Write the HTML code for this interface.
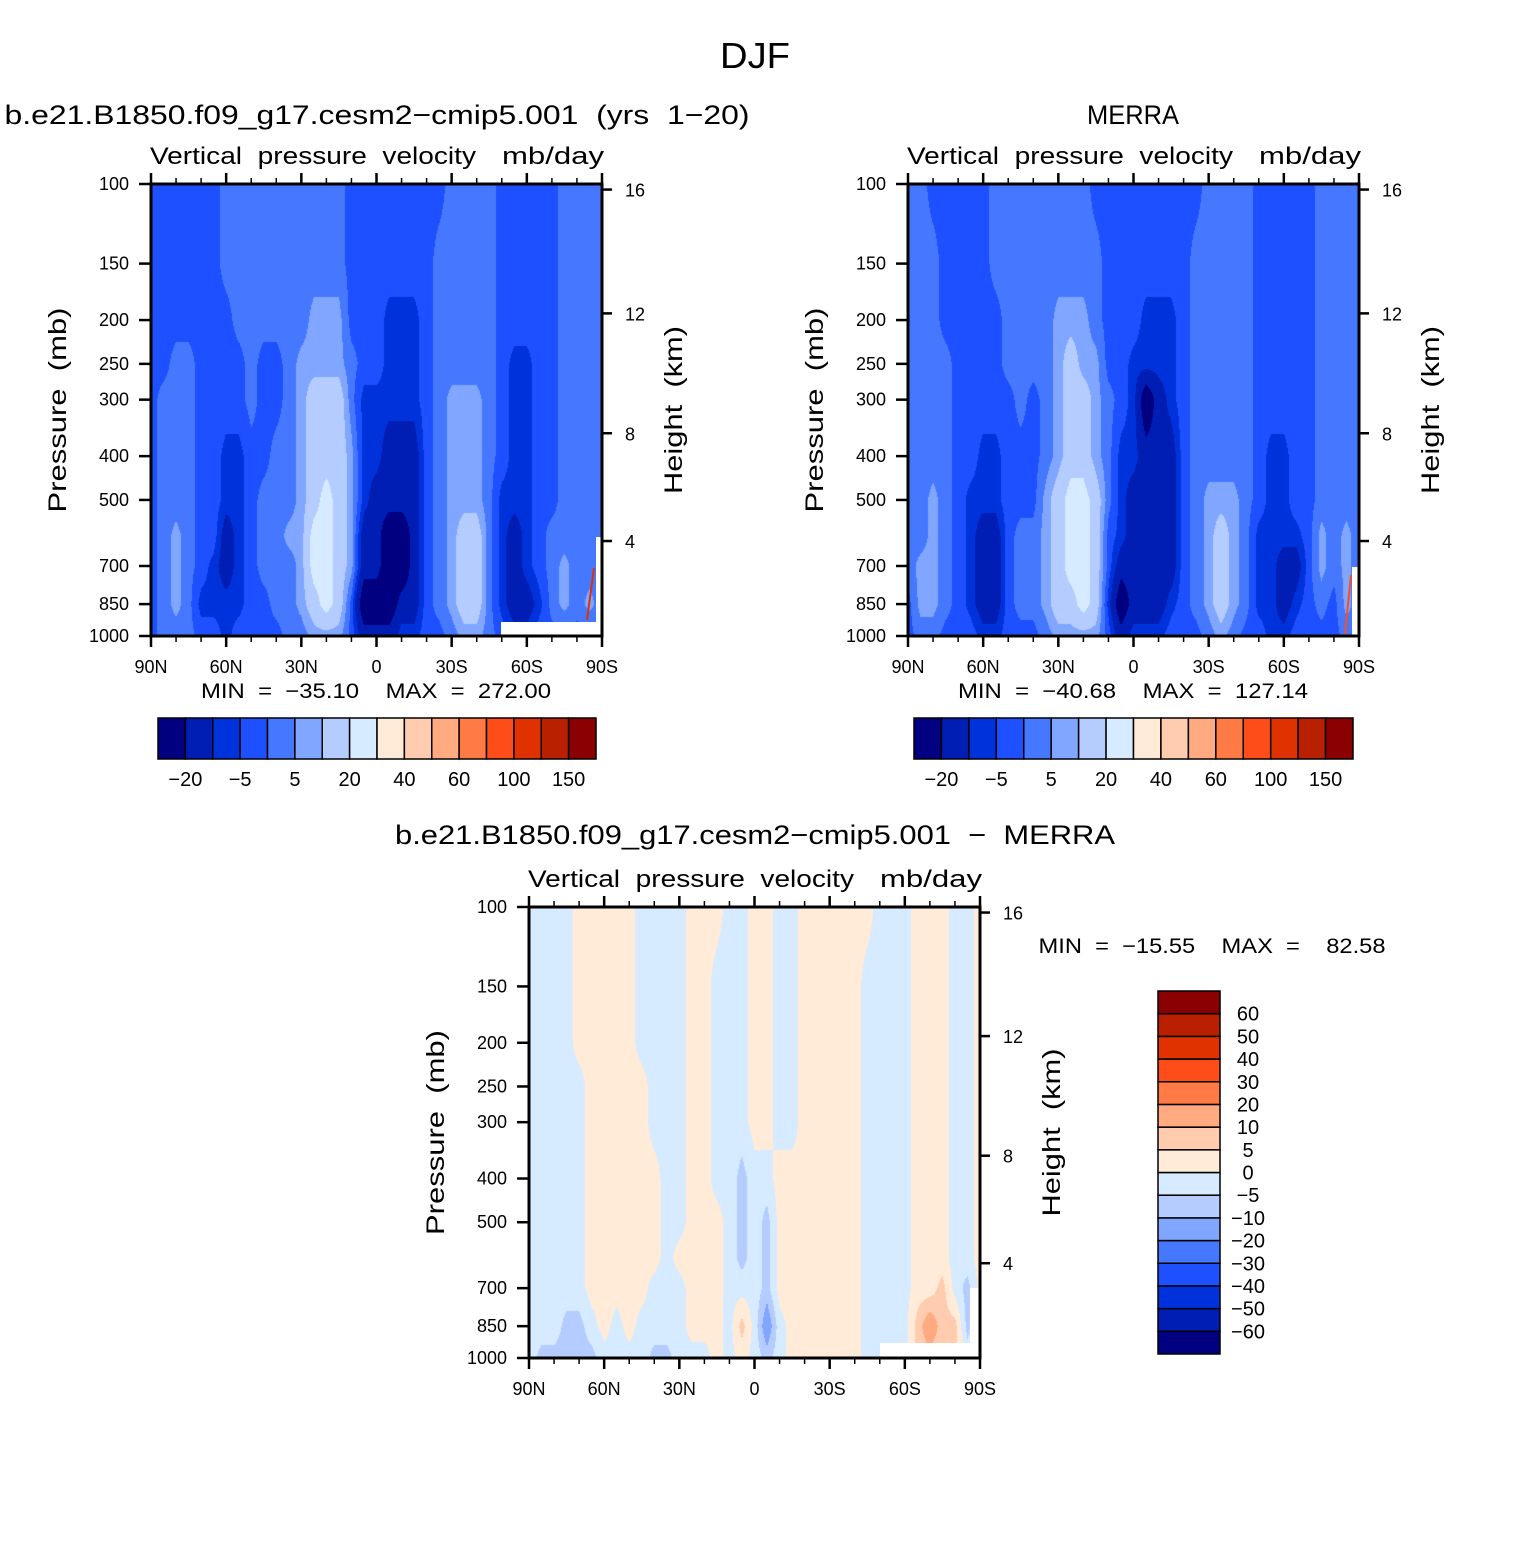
<!DOCTYPE html>
<html><head><meta charset="utf-8"><style>
html,body{margin:0;padding:0;background:#fff;}
#wrap{position:relative;width:1525px;height:1543px;overflow:hidden;background:#fff;}
canvas{position:absolute;}
svg{position:absolute;left:0;top:0;}
text{font-family:"Liberation Sans",sans-serif;fill:#000;white-space:pre;}
</style></head><body>
<div id="wrap">
<canvas id="cA" width="451" height="452" style="left:151px;top:184px"></canvas>
<canvas id="cB" width="451" height="452" style="left:908px;top:184px"></canvas>
<canvas id="cC" width="451" height="451" style="left:529px;top:907px"></canvas>
<svg id="svg" width="1525" height="1543" xmlns="http://www.w3.org/2000/svg"></svg>
</div>
<script>
// ---- data ----
const latitudes = [90,85,80,75,70,65,60,55,50,45,40,35,30,25,20,15,10,5,0,-5,-10,-15,-20,-25,-30,-35,-40,-45,-50,-55,-60,-65,-70,-75,-80,-85,-90];
const pressureLevels = [100,150,200,250,300,400,500,600,700,850,1000];
const pressureTicks = [100,150,200,250,300,400,500,700,850,1000];
const heightTicks = [4,8,12,16];
const latTickLabels = ["90N","60N","30N","0","30S","60S","90S"];
const topLevels = [-20,-10,-5,0,5,10,20,30,40,50,60,80,100,125,150];
const topLevelLabels = ["−20","−5","5","20","40","60","100","150"];
const diffLevels = [-60,-50,-40,-30,-20,-10,-5,0,5,10,20,30,40,50,60];
const diffLevelLabels = ["−60","−50","−40","−30","−20","−10","−5","0","5","10","20","30","40","50","60"];
const palette = ["#000080","#001eb4","#0032dc","#1e50ff","#4678ff","#80a6ff","#b4ccff","#d6ebff","#ffebd7","#ffccb0","#ffaa80","#ff7a45","#ff4d1a","#e03200","#b82000","#8b0000"];
// profiles per latitude (100..1000 mb), mb/day
const modelOmega = [
[-2,-2,-2,-2,-2,-2,-2,-2,-2,-2,-2],
[-2,-2,-2,-2,2,2,2,2,2,2,2],
[-2,-2,-2,2,2,2,2,7,7,7,2],
[-2,-2,-2,2,2,2,2,2,2,2,2],
[-2,-2,-2,-2,-2,-2,-2,-2,-2,-7,-2],
[-2,-2,-2,-2,-2,-2,-2,-2,-7,-7,-2],
[2,2,-2,-2,-2,-7,-7,-15,-15,-7,-7],
[2,2,2,-2,-2,-7,-7,-7,-7,-7,-2],
[2,2,2,2,2,-2,-2,-2,-2,-2,-2],
[2,2,2,-2,-2,-2,2,2,2,-2,-2],
[2,2,2,-2,-2,2,2,2,2,2,-2],
[2,2,2,2,2,2,2,7,2,2,2],
[2,2,2,7,7,7,7,7,7,7,2],
[2,2,7,7,15,15,15,25,25,15,7],
[2,2,7,7,15,15,25,25,25,25,7],
[2,2,7,7,15,15,15,15,15,15,7],
[-2,-2,-2,2,2,7,7,7,7,-2,-2],
[-2,-2,-2,-2,-7,-7,-7,-15,-15,-30,-15],
[-2,-2,-2,-2,-7,-7,-15,-15,-15,-30,-15],
[-2,-2,-7,-7,-7,-15,-15,-30,-30,-30,-15],
[-2,-2,-7,-7,-7,-15,-15,-30,-30,-15,-7],
[-2,-2,-7,-7,-7,-15,-15,-15,-15,-15,-7],
[-2,-2,-2,-2,-2,-2,-2,-2,-2,-2,-2],
[-2,2,2,2,2,2,2,2,2,2,-2],
[2,2,2,2,7,7,7,7,7,7,2],
[2,2,2,2,7,7,7,15,15,15,7],
[2,2,2,2,7,7,7,15,15,15,7],
[2,2,2,2,2,2,2,2,2,2,2],
[-2,-2,-2,-2,-2,-2,-7,-7,-7,-7,-2],
[-2,-2,-2,-7,-7,-7,-7,-15,-15,-15,-7],
[-2,-2,-2,-7,-7,-7,-7,-7,-7,-15,-7],
[-2,-2,-2,-2,-2,-2,-2,-2,-2,-7,-2],
[-2,-2,-2,-2,-2,-2,-2,2,2,2,-2],
[2,2,2,2,2,2,2,2,7,7,-2],
[2,2,2,2,2,2,2,2,2,2,-2],
[2,2,2,2,2,2,2,2,2,7,-2],
[2,2,2,2,2,2,2,2,2,2,2]];
const merraOmega = [
[2,2,2,2,2,2,2,2,2,-2,-2],
[2,2,2,2,2,2,2,2,7,7,2],
[-2,2,2,2,2,2,7,7,7,7,2],
[-2,-2,-2,2,2,2,2,2,2,2,-2],
[-2,-2,-2,-2,-2,-2,-2,-2,-2,-2,-2],
[-2,-2,-2,-2,-2,-2,-7,-7,-7,-7,-2],
[-2,-2,-2,-2,-2,-7,-7,-15,-15,-15,-7],
[2,2,-2,-2,-2,-7,-7,-15,-15,-15,-7],
[2,2,2,2,-2,-2,-2,-2,-2,-2,-2],
[2,2,2,2,2,-2,-2,2,2,2,-2],
[2,2,2,2,-2,-2,-2,2,2,2,-2],
[2,2,2,2,2,2,7,7,7,7,2],
[2,2,7,7,7,7,15,15,15,15,7],
[2,2,7,15,15,15,25,25,25,15,7],
[2,2,7,7,15,15,25,25,25,25,7],
[-2,2,2,7,7,7,15,15,15,15,7],
[-2,-2,-2,-2,2,2,2,-2,-2,-7,-2],
[-2,-2,-2,-2,-2,-7,-7,-7,-15,-30,-15],
[-2,-2,-2,-7,-7,-7,-15,-15,-15,-15,-7],
[-2,-2,-7,-7,-30,-15,-15,-15,-15,-15,-7],
[-2,-2,-7,-7,-15,-15,-15,-15,-15,-15,-7],
[-2,-2,-7,-7,-7,-15,-15,-15,-15,-7,-2],
[-2,-2,-2,-2,-2,-2,-2,-2,-2,-2,-2],
[-2,2,2,2,2,2,2,2,2,2,-2],
[2,2,2,2,2,2,7,7,7,7,2],
[2,2,2,2,2,2,7,15,15,15,7],
[2,2,2,2,2,2,7,7,7,7,2],
[2,2,2,2,2,2,2,2,2,2,-2],
[-2,-2,-2,-2,-2,-2,-2,-7,-7,-7,-2],
[-2,-2,-2,-2,-2,-7,-7,-7,-7,-7,-7],
[-2,-2,-2,-2,-2,-7,-7,-7,-15,-15,-7],
[-2,-2,-2,-2,-2,-2,-2,-7,-15,-7,-2],
[-2,-2,-2,-2,-2,-2,-2,-2,-2,-2,-2],
[2,2,2,2,2,2,2,7,7,2,-2],
[2,2,2,2,2,2,2,2,2,-2,-2],
[2,2,2,2,2,2,2,7,7,7,2],
[2,2,2,2,2,2,2,2,2,2,2]];
const diffOmega = [
[-2,-2,-2,-2,-2,-2,-2,-2,-2,-2,-2],
[-2,-2,-2,-2,-2,-2,-2,-2,-2,-2,-7],
[-2,-2,-2,-2,-2,-2,-2,-2,-2,-2,-7],
[-2,-2,-2,-2,-2,-2,-2,-2,-2,-7,-7],
[2,2,2,-2,-2,-2,-2,-2,-2,-7,-7],
[2,2,2,2,2,2,2,2,2,-2,-7],
[2,2,2,2,2,2,2,2,2,2,-2],
[2,2,2,2,2,2,2,2,2,-2,-2],
[2,2,2,2,2,2,2,2,2,2,-2],
[-2,-2,-2,2,2,2,2,2,2,-2,-2],
[-2,-2,-2,-2,-2,2,2,2,-2,-2,-7],
[-2,-2,-2,-2,-2,-2,-2,-2,-2,-2,-7],
[-2,-2,-2,-2,-2,-2,-2,2,-2,-2,-2],
[2,2,2,2,2,2,2,2,2,2,-2],
[2,2,2,2,2,2,2,2,2,2,-2],
[2,-2,-2,-2,-2,-2,2,2,2,2,2],
[-2,-2,-2,-2,-2,-2,-2,-2,-2,-2,-2],
[-2,-2,-2,-2,-2,-7,-7,-7,-2,7,2],
[2,2,2,2,2,-2,-2,-2,-2,-2,-2],
[2,2,2,2,2,-2,-7,-7,-7,-15,-7],
[-2,-2,-2,-2,-2,2,2,2,2,-2,-2],
[-2,-2,-2,-2,-2,2,2,2,2,2,2],
[2,2,2,2,2,2,2,2,2,2,2],
[2,2,2,2,2,2,2,2,2,2,2],
[2,2,2,2,2,2,2,2,2,2,2],
[2,2,2,2,2,2,2,2,2,2,2],
[2,2,2,2,2,2,2,2,2,2,2],
[2,-2,-2,-2,-2,-2,-2,-2,-2,-2,-2],
[-2,-2,-2,-2,-2,-2,-2,-2,-2,-2,-2],
[-2,-2,-2,-2,-2,-2,-2,-2,-2,-2,-2],
[-2,-2,-2,-2,-2,-2,-2,-2,-2,-2,-2],
[2,2,2,2,2,2,2,2,2,7,7],
[2,2,2,2,2,2,2,2,2,15,7],
[2,2,2,2,2,2,2,2,7,7,7],
[-2,-2,-2,-2,-2,-2,-2,-2,-2,7,7],
[-2,-2,-2,-2,-2,-2,-2,-2,-7,-7,-2],
[2,2,2,2,2,2,2,2,2,2,2]];

// ---- axis functions ----
function makeAxes(x0,y0,W,H){
  return {
    x: lat => x0 + (90-lat)/180*W,
    y: p => y0 + Math.log10(p/100)*H,
    x0,y0,W,H
  };
}
function heightToP(z){
  if(z<=11) return 1013.25*Math.pow(1-z/44.3308,5.2559);
  return 226.32*Math.exp(-(z-11)/6.3416);
}
function classify(v,levels){let k=0;while(k<levels.length&&v>=levels[k])k++;return k;}
function hex(c){return [parseInt(c.substr(1,2),16),parseInt(c.substr(3,2),16),parseInt(c.substr(5,2),16)];}
const palRGB = palette.map(hex);

function drawField(canvasId, grid, levels, ax){
  const cv=document.getElementById(canvasId), ctx=cv.getContext('2d');
  const W=cv.width,H=cv.height, img=ctx.createImageData(W,H);
  const logs=pressureLevels.map(p=>Math.log10(p));
  const nLat=latitudes.length;
  for(let py=0;py<H;py++){
    const lp=2+(py+0.5)/ax.H;
    let k=0; while(k<logs.length-2 && lp>logs[k+1]) k++;
    let fy=(lp-logs[k])/(logs[k+1]-logs[k]); fy=Math.max(0,Math.min(1,fy));
    for(let px=0;px<W;px++){
      const lat=90-(px+0.5)/ax.W*180;
      let u=(latitudes[0]-lat)/(latitudes[0]-latitudes[nLat-1])*(nLat-1);
      let i=Math.min(nLat-2,Math.max(0,Math.floor(u))); let fx=Math.max(0,Math.min(1,u-i));
      const v=(grid[i][k]*(1-fx)+grid[i+1][k]*fx)*(1-fy)+(grid[i][k+1]*(1-fx)+grid[i+1][k+1]*fx)*fy;
      const c=palRGB[classify(v,levels)], o=(py*W+px)*4;
      img.data[o]=c[0];img.data[o+1]=c[1];img.data[o+2]=c[2];img.data[o+3]=255;
    }
  }
  ctx.putImageData(img,0,0);
}

const NS="http://www.w3.org/2000/svg", svg=document.getElementById('svg');
function el(tag,attrs,parent){const e=document.createElementNS(NS,tag);for(const k in attrs)e.setAttribute(k,attrs[k]);(parent||svg).appendChild(e);return e;}
function txt(s,x,y,size,anchor,extra,parent){
  const a=Object.assign({x:x,y:y,'font-size':size,'text-anchor':anchor||'middle'},extra||{});
  if(a.textLength) a.lengthAdjust='spacingAndGlyphs';
  const t=el('text',a,parent);t.textContent=s;return t;}

function drawAxes(ax,name){
  const g=el('g',{});
  
  
  const L=ax.x0,R=ax.x0+ax.W,T=ax.y0,B=ax.y0+ax.H;
  for(let lat=90;lat>=-90;lat-=10){
    const x=ax.x(lat), major=(lat%30===0), len=major?11:6;
    el('line',{x1:x,y1:T,x2:x,y2:T-len,stroke:'#000','stroke-width':major?2.5:1.5},g);
    el('line',{x1:x,y1:B,x2:x,y2:B+len,stroke:'#000','stroke-width':major?2.5:1.5},g);
  }
  latTickLabels.forEach((s,i)=>{
    const t=txt(s,ax.x(90-30*i),B+37,18,'middle',{},g);
    
    
  });
  pressureTicks.forEach(p=>{
    const y=ax.y(p);
    el('line',{x1:L,y1:y,x2:L-12,y2:y,stroke:'#000','stroke-width':2.5},g);
    const t=txt(String(p),L-22,y+6,18,'end',{},g);
    
    
  });
  heightTicks.forEach(z=>{
    const y=ax.y(heightToP(z));
    el('line',{x1:R,y1:y,x2:R+10,y2:y,stroke:'#000','stroke-width':2.5},g);
    const t=txt(String(z),R+23,y+7,18,'start',{},g);
    
    
  });
  el('rect',{x:L,y:T,width:ax.W,height:ax.H,fill:'none',stroke:'#000','stroke-width':3},g);
  const py=txt('Pressure  (mb)',0,0,25,'middle',{transform:`translate(${L-85},${(T+B)/2}) rotate(-90)`,textLength:205},g);
  
  
  const hy=txt('Height  (km)',0,0,25,'middle',{transform:`translate(${R+80},${(T+B)/2}) rotate(-90)`,textLength:168},g);
  
  
  const s1=txt('Vertical  pressure  velocity',L-1,T-20,24,'start',{textLength:326},g);
  
  
  const s2=txt('mb/day',R+2,T-20,24,'end',{textLength:102},g);
  
  
}

function hColorbar(x,y,w,h,labels,name){
  const g=el('g',{});
  
  
  const n=palette.length, bw=w/n;
  palette.forEach((c,i)=>{el('rect',{x:x+i*bw,y:y,width:bw,height:h,fill:c,stroke:'#000','stroke-width':1.5},g);});
  labels.forEach((s,i)=>{const t=txt(s,x+(2*i+1)*bw,y+h+27,20,'middle',{},g);
    
    });
}

const axA=makeAxes(151,184,451,452), axB=makeAxes(908,184,451,452), axC=makeAxes(529,907,451,451);
drawField('cA',modelOmega,topLevels,axA);
drawField('cB',merraOmega,topLevels,axB);
drawField('cC',diffOmega,diffLevels,axC);

// missing-data areas
el('rect',{x:501,y:622,width:100,height:14,fill:'#fff'});
el('rect',{x:596,y:537,width:6,height:86,fill:'#fff'});
el('line',{x1:587,y1:620,x2:594,y2:568,stroke:'#e03200','stroke-width':2});
el('rect',{x:1352,y:567,width:7,height:69,fill:'#fff'});
el('line',{x1:1345,y1:634,x2:1351,y2:575,stroke:'#ff4d1a','stroke-width':2});
el('rect',{x:880,y:1343,width:99,height:15,fill:'#fff'});
el('rect',{x:970,y:1288,width:10,height:70,fill:'#fff'});

drawAxes(axA,'model-panel');
drawAxes(axB,'merra-panel');
drawAxes(axC,'difference-panel');

let t;
t=txt('DJF',755,68,36,'middle',{textLength:70});  
t=txt('b.e21.B1850.f09_g17.cesm2−cmip5.001  (yrs  1−20)',377,124,27,'middle',{textLength:745});  
t=txt('MERRA',1133,124,27,'middle',{textLength:92});  
t=txt('MIN  =  −35.10    MAX  =  272.00',376,698,21,'middle',{textLength:350});  
t=txt('MIN  =  −40.68    MAX  =  127.14',1133,698,21,'middle',{textLength:350});  
t=txt('b.e21.B1850.f09_g17.cesm2−cmip5.001  −  MERRA',755,844,27,'middle',{textLength:720});  
t=txt('MIN  =  −15.55    MAX  =    82.58',1212,953,21,'middle',{textLength:347});  

hColorbar(158,718,438,41,topLevelLabels,'model-colorbar');
hColorbar(914,718,439,41,topLevelLabels,'merra-colorbar');

(function(){
  const g=el('g',{});
  
  
  const x=1158,y=991,w=62,h=363,n=palette.length,bh=h/n;
  palette.forEach((c,i)=>{el('rect',{x:x,y:y+(n-1-i)*bh,width:w,height:bh,fill:c,stroke:'#000','stroke-width':1.5},g);});
  diffLevelLabels.forEach((s,i)=>{const tt=txt(s,1248,y+(n-1-i)*bh+7,20,'middle',{},g);
    
    });
})();
</script>
</body></html>
